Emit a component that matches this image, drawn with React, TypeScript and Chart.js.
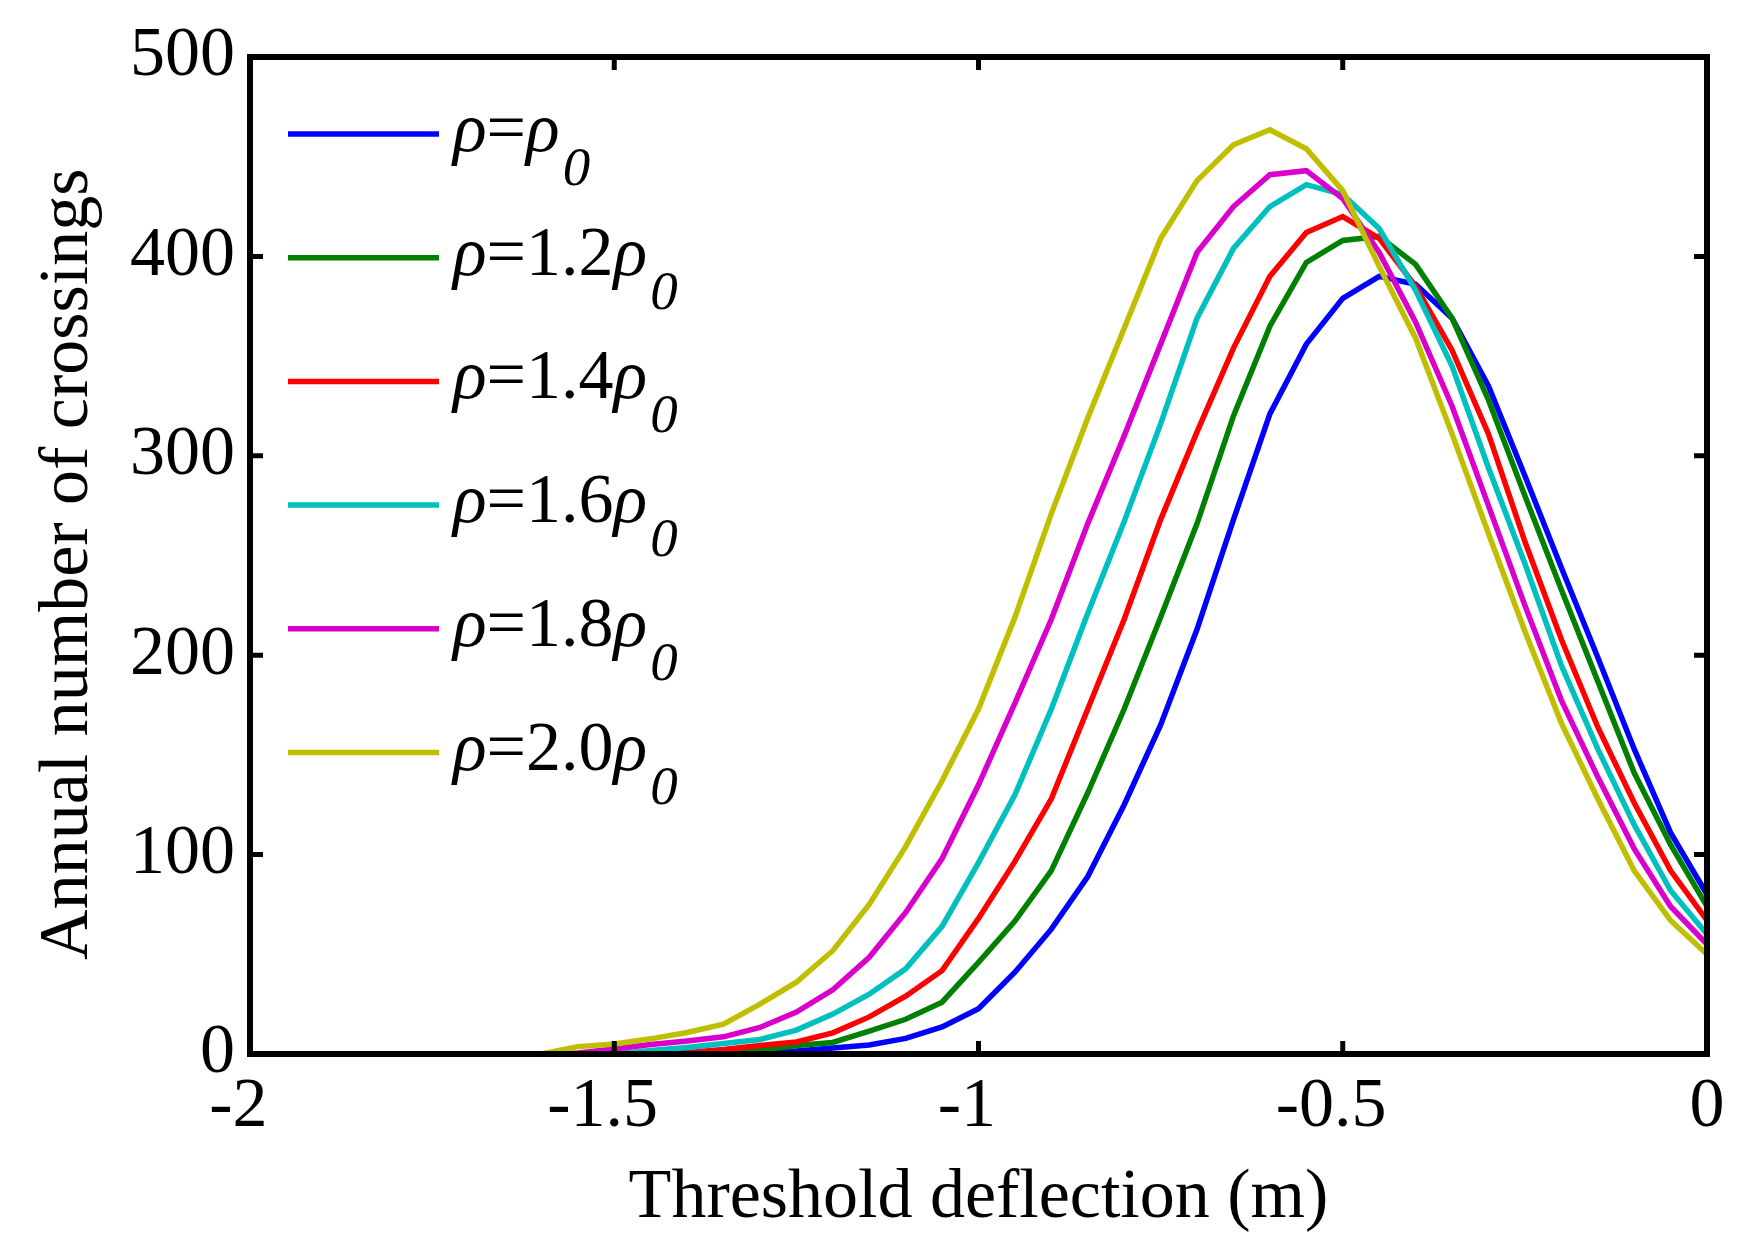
import React, { useEffect, useRef } from "react";
import { Chart, registerables } from "chart.js";

Chart.register(...registerables);

// threshold deflection (m)
const thresholds = [
  -2, -1.6, -1.55, -1.5, -1.45, -1.4, -1.35, -1.3, -1.25, -1.2, -1.15, -1.1,
  -1.05, -1.0, -0.95, -0.9, -0.85, -0.8, -0.75, -0.7, -0.65, -0.6, -0.55, -0.5,
  -0.45, -0.4, -0.35, -0.3, -0.25, -0.2, -0.15, -0.1, -0.05, 0,
];

// annual number of crossings, one list per density
const crossingsRho10 = [
  0, 0, 0, 0, 0, 0, 0, 0.3, 1.5, 3, 4.5, 7.8, 13.6, 22.7, 41, 62.6, 89, 125,
  165, 213, 268, 321, 356, 379, 390, 386, 369, 335, 290, 244, 199, 153, 111, 80,
];
const crossingsRho12 = [
  0, 0, 0, 0, 0, 0, 0, 2, 4.3, 5.8, 11.5, 17.4, 26, 46, 66.7, 92, 131, 173,
  219, 266, 320, 365, 397, 408, 410, 396, 369, 328, 280, 233, 187, 141, 105, 74,
];
const crossingsRho14 = [
  0, 0, 0, 0, 0, 0.8, 2.3, 4.3, 6, 10.6, 18.6, 29, 41.8, 68, 96.6, 128, 173,
  218, 268, 312, 354, 390, 412, 420, 409, 385, 353, 311, 257, 208, 164, 126, 92, 67,
];
const crossingsRho16 = [
  0, 0, 0, 0, 1.7, 3.3, 5.3, 7.3, 12, 20, 30, 42.7, 64, 96, 130, 173, 221, 267,
  316, 369, 404, 425, 436, 431, 414, 383, 345, 294, 246, 195, 153, 115, 82, 60,
];
const crossingsRho18 = [
  0, 0, 0.5, 2.5, 4.8, 6.5, 8.6, 13.3, 21, 32.2, 48.5, 71, 98, 135, 176, 218,
  266, 310, 356, 402, 425, 441, 443, 429, 402, 367, 325, 275, 225, 177.5, 139, 103, 74, 55,
];
const crossingsRho20 = [
  0, 0, 3.7, 5, 7.6, 10.8, 15, 25, 36, 51.8, 75, 104, 137, 173, 219, 271, 319,
  364, 409, 438, 456, 463.5, 454, 433, 395, 359, 311, 261, 212, 166, 128, 92, 67, 50,
];

const rhoFactors = ["", "1.2", "1.4", "1.6", "1.8", "2.0"];
const seriesValues = [
  crossingsRho10,
  crossingsRho12,
  crossingsRho14,
  crossingsRho16,
  crossingsRho18,
  crossingsRho20,
];
const lineColors = ["#0000ff", "#008000", "#ff0000", "#00bfbf", "#d900cc", "#bfbf00"];

const FONT = "'Liberation Serif', 'Times New Roman', serif";

// box round the plot with inward ticks on all four sides
const framePlugin = {
  id: "frame",
  afterDatasetsDraw(chart: any) {
    const { ctx, chartArea: a, scales } = chart;
    const tick = 13;
    ctx.save();
    ctx.strokeStyle = "#000";
    ctx.lineCap = "butt";
    ctx.lineWidth = 5;
    ctx.beginPath();
    scales.x.ticks.forEach((t: any) => {
      const px = scales.x.getPixelForValue(t.value);
      ctx.moveTo(px, a.bottom);
      ctx.lineTo(px, a.bottom - tick);
      ctx.moveTo(px, a.top);
      ctx.lineTo(px, a.top + tick);
    });
    scales.y.ticks.forEach((t: any) => {
      const py = scales.y.getPixelForValue(t.value);
      ctx.moveTo(a.left, py);
      ctx.lineTo(a.left + tick, py);
      ctx.moveTo(a.right, py);
      ctx.lineTo(a.right - tick, py);
    });
    ctx.stroke();
    ctx.lineWidth = 6;
    ctx.strokeRect(a.left, a.top, a.right - a.left, a.bottom - a.top);
    ctx.restore();
  },
};

// legend with italic rho and subscript 0
const rhoLegendPlugin = {
  id: "rhoLegend",
  afterDraw(chart: any) {
    const { ctx, chartArea: a } = chart;
    ctx.save();
    chart.data.datasets.forEach((ds: any, i: number) => {
      const y = a.top + 77 + i * 123.7;
      ctx.strokeStyle = ds.borderColor;
      ctx.lineWidth = 5.5;
      ctx.beginPath();
      ctx.moveTo(a.left + 38, y);
      ctx.lineTo(a.left + 189, y);
      ctx.stroke();

      const base = y + 17;
      let x = a.left + 203;
      ctx.fillStyle = "#000";
      ctx.textBaseline = "alphabetic";
      ctx.textAlign = "left";
      ctx.font = `italic 70px ${FONT}`;
      ctx.fillText("ρ", x, base);
      x += ctx.measureText("ρ").width;
      ctx.font = `70px ${FONT}`;
      const mid = "=" + rhoFactors[i];
      ctx.fillText(mid, x, base);
      x += ctx.measureText(mid).width;
      ctx.font = `italic 70px ${FONT}`;
      ctx.fillText("ρ", x, base);
      x += ctx.measureText("ρ").width;
      ctx.font = `italic 55px ${FONT}`;
      ctx.fillText("0", x + 3, base + 34);
    });
    ctx.restore();
  },
};

const CrossingsChart: React.FC = () => {
  const canvasRef = useRef<HTMLCanvasElement | null>(null);

  useEffect(() => {
    const ctx = canvasRef.current?.getContext("2d");
    if (!ctx) {
      return;
    }

    const chart = new Chart(ctx, {
      type: "line",
      data: {
        datasets: seriesValues.map((values, i) => ({
          label: `ρ=${rhoFactors[i]}ρ₀`,
          data: thresholds.map((x, j) => ({ x, y: values[j] })),
          borderColor: lineColors[i],
          backgroundColor: lineColors[i],
          borderWidth: 5.5,
          pointRadius: 0,
          tension: 0,
          fill: false,
          order: seriesValues.length - 1 - i, // last series drawn on top
        })),
      },
      options: {
        animation: false,
        responsive: true,
        maintainAspectRatio: false,
        layout: { padding: { top: 50, right: 49, left: 0, bottom: 0 } },
        plugins: {
          legend: { display: false },
          tooltip: { enabled: false },
        },
        scales: {
          x: {
            type: "linear",
            min: -2,
            max: 0,
            grid: { display: false, drawTicks: false },
            border: { display: false },
            ticks: {
              stepSize: 0.5,
              autoSkip: false,
              maxRotation: 0,
              padding: 12,
              color: "#000",
              font: { family: FONT, size: 70 },
              // the minus sign hangs to the left of the centred number
              callback: (v: any) => (v < 0 ? `${v}\u2004` : `${v}`),
            },
            title: {
              display: true,
              text: "Threshold deflection (m)",
              color: "#000",
              font: { family: FONT, size: 70 },
              padding: { top: 0, bottom: 11 },
            },
            afterFit: (scale: any) => {
              scale.width = scale.width;
              scale.height = 198;
            },
          },
          y: {
            min: 0,
            max: 500,
            grid: { display: false, drawTicks: false },
            border: { display: false },
            ticks: {
              stepSize: 100,
              padding: 15,
              color: "#000",
              font: { family: FONT, size: 70 },
            },
            title: {
              display: true,
              // trailing space nudges the rotated title a little lower, as in the original
              text: "Annual number of crossings ",
              color: "#000",
              font: { family: FONT, size: 70 },
              padding: { top: 27, bottom: 0 },
            },
            afterFit: (scale: any) => {
              scale.width = 250;
            },
          },
        },
      },
      plugins: [framePlugin, rhoLegendPlugin],
    });

    return () => {
      chart.destroy();
    };
  }, []);

  return (
    <div style={{ position: "absolute", left: 0, top: 0, width: 1756, height: 1252, background: "#fff" }}>
      <canvas ref={canvasRef} />
    </div>
  );
};

export default function App() {
  useEffect(() => {
    document.body.style.margin = "0";
    document.body.style.overflow = "hidden";
  }, []);
  return <CrossingsChart />;
}
